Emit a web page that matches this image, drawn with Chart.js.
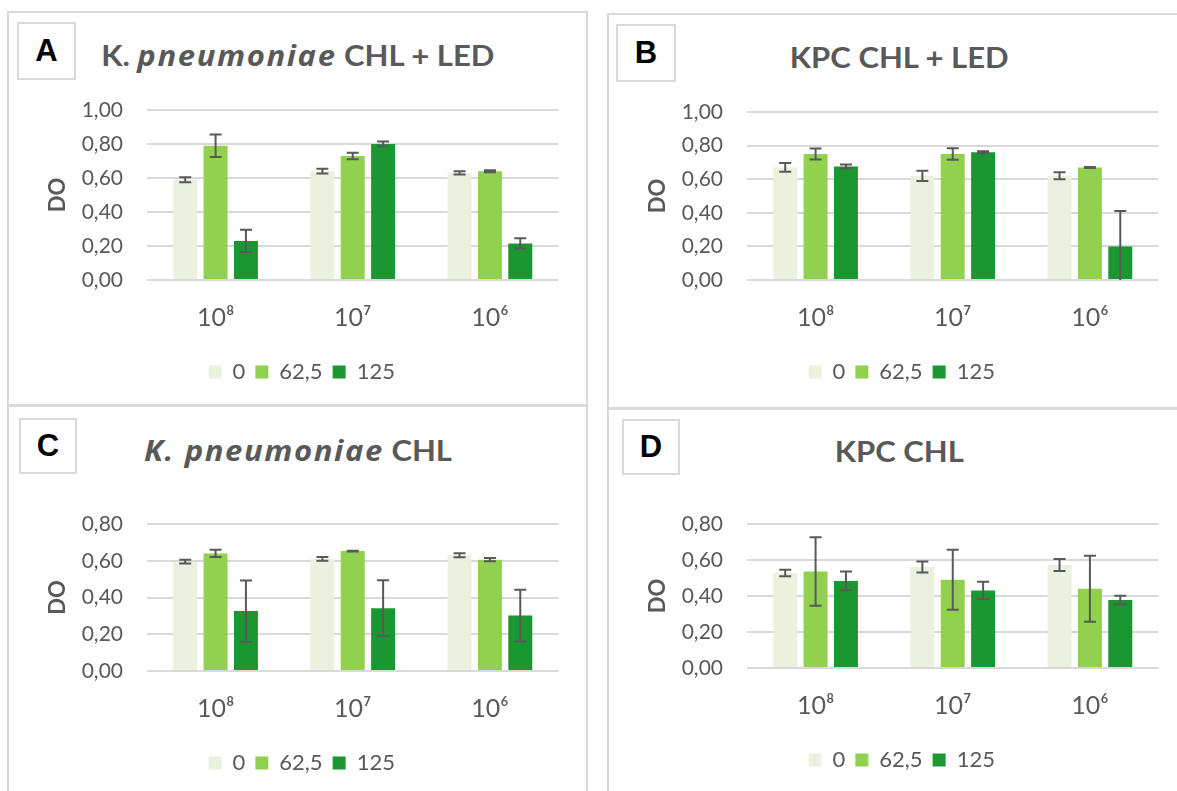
<!DOCTYPE html>
<html>
<head>
<meta charset="utf-8">
<script src="https://cdn.jsdelivr.net/npm/chart.js@4/dist/chart.umd.min.js"></script>
<style>
  html, body { margin: 0; padding: 0; background: #fff; width: 1177px; height: 791px; overflow: hidden; position: relative; }
  .frame { position: absolute; border: 2px solid #d9d9d9; box-sizing: border-box; }
  .tag { position: absolute; border: 2px solid #d9d9d9; box-sizing: border-box; background: #fff;
         display: flex; align-items: center; justify-content: center;
         font: bold 31px "Liberation Sans", Arial, sans-serif; color: #000; }
  .title { position: absolute; width: 500px; text-align: center; white-space: nowrap;
           font: bold 29px Lato, sans-serif; color: #595959; line-height: 29px; }
  .title span { display: inline-block; transform: scaleX(1.07); transform-origin: center; }
  .title i { font-family: "Open Sans", sans-serif; font-size: 29px; letter-spacing: 1.5px; }
  canvas { position: absolute; }
</style>
</head>
<body>
  <div class="frame" style="left:7px; top:11px; width:581px; height:395px;"></div>
  <div class="frame" style="left:7px; top:405px; width:581px; height:400px;"></div>
  <div class="frame" style="left:607px; top:13px; width:580px; height:396px;"></div>
  <div class="frame" style="left:607px; top:408px; width:580px; height:400px;"></div>

  <div class="tag" style="left:17px; top:22px; width:59px; height:58px;">A</div>
  <div class="tag" style="left:616px; top:24px; width:60px; height:58px;">B</div>
  <div class="tag" style="left:19px; top:418px; width:58px; height:56px;">C</div>
  <div class="tag" style="left:622px; top:419px; width:58px; height:56px;">D</div>

  <div class="title" style="left:48px; top:40px;"><span>K. <i>pneumoniae</i> CHL + LED</span></div>
  <div class="title" style="left:649px; top:42px;"><span>KPC CHL + LED</span></div>
  <div class="title" style="left:48px; top:435px;"><span><i>K. pneumoniae</i> CHL</span></div>
  <div class="title" style="left:649px; top:436px;"><span>KPC CHL</span></div>

  <canvas id="chartA" width="580" height="393" style="left:8px; top:12px;"></canvas>
  <canvas id="chartB" width="580" height="393" style="left:608px; top:12px;"></canvas>
  <canvas id="chartC" width="580" height="393" style="left:8px; top:403px;"></canvas>
  <canvas id="chartD" width="580" height="393" style="left:608px; top:400px;"></canvas>

<script>
// Inoculum categories and chloramphenicol concentrations
const categories = ['10\u2078', '10\u2077', '10\u2076'];
const seriesNames = ['0', '62,5', '125'];
const seriesColors = ['#ebf0df', '#92d050', '#1b9731'];

// A: K. pneumoniae CHL + LED (mean DO and error)
const aMean0 = [0.59, 0.64, 0.63];
const aErr0  = [0.015, 0.014, 0.010];
const aMean1 = [0.79, 0.73, 0.64];
const aErr1  = [0.066, 0.019, 0.006];
const aMean2 = [0.23, 0.80, 0.215];
const aErr2  = [0.066, 0.015, 0.030];

// B: KPC CHL + LED
const bMean0 = [0.67, 0.62, 0.62];
const bErr0  = [0.026, 0.030, 0.021];
const bMean1 = [0.75, 0.75, 0.67];
const bErr1  = [0.032, 0.034, 0.003];
const bMean2 = [0.675, 0.76, 0.20];
const bErr2  = [0.012, 0.006, 0.21];

// C: K. pneumoniae CHL
const cMean0 = [0.595, 0.61, 0.63];
const cErr0  = [0.010, 0.010, 0.011];
const cMean1 = [0.64, 0.653, 0.606];
const cErr1  = [0.020, 0.002, 0.009];
const cMean2 = [0.326, 0.342, 0.302];
const cErr2  = [0.167, 0.152, 0.140];

// D: KPC CHL
const dMean0 = [0.528, 0.561, 0.572];
const dErr0  = [0.018, 0.031, 0.033];
const dMean1 = [0.536, 0.49, 0.44];
const dErr1  = [0.190, 0.167, 0.183];
const dMean2 = [0.484, 0.431, 0.378];
const dErr2  = [0.052, 0.048, 0.024];

// Y axis ranges
const yMaxLed = 1.0;
const yMaxChl = 0.8;
const yStep = 0.2;

const textColor = '#595959';

// Symmetric error bars drawn from each bar's value through the y scale
const errorBars = {
  id: 'errorBars',
  afterDatasetsDraw(chart) {
    const ctx = chart.ctx;
    const y = chart.scales.y;
    const area = chart.chartArea;
    ctx.save();
    ctx.strokeStyle = textColor;
    ctx.lineWidth = 2;
    chart.data.datasets.forEach((ds, i) => {
      const meta = chart.getDatasetMeta(i);
      meta.data.forEach((bar, j) => {
        const v = ds.data[j];
        const e = ds.errors[j];
        const yHi = y.getPixelForValue(v + e);
        const lowVal = v - e;
        const yLo = Math.min(y.getPixelForValue(lowVal), area.bottom);
        const x = bar.x;
        const half = 6;
        ctx.beginPath();
        ctx.moveTo(x, yHi); ctx.lineTo(x, yLo);
        ctx.moveTo(x - half, yHi); ctx.lineTo(x + half, yHi);
        if (lowVal > 0) { ctx.moveTo(x - half, yLo); ctx.lineTo(x + half, yLo); }
        ctx.stroke();
      });
    });
    ctx.restore();
  }
};

function makeChart(id, means, errs, yMax, padTop) {
  return new Chart(document.getElementById(id), {
    type: 'bar',
    data: {
      labels: categories,
      datasets: seriesNames.map((name, i) => ({
        label: name,
        data: means[i],
        errors: errs[i],
        backgroundColor: seriesColors[i],
        borderWidth: 0,
        categoryPercentage: 0.664,
        barPercentage: 0.79
      }))
    },
    options: {
      responsive: false,
      animation: false,
      devicePixelRatio: 1,
      layout: { padding: { left: 37, right: 29.5, top: padTop, bottom: 12 } },
      plugins: {
        legend: {
          position: 'bottom',
          labels: {
            boxWidth: 13, boxHeight: 13, padding: 10, color: textColor,
            font: { family: 'Lato', size: 22 }
          }
        },
        tooltip: { enabled: false }
      },
      scales: {
        x: {
          grid: { display: false },
          border: { display: false },
          ticks: { color: textColor, font: { family: 'Lato', size: 25 }, padding: 15 },
          afterFit(scale) { scale.height = 71; }
        },
        y: {
          min: 0,
          max: yMax,
          ticks: {
            stepSize: yStep,
            color: textColor,
            font: { family: 'Lato', size: 21 },
            padding: 24,
            callback: (v) => v.toFixed(2).replace('.', ',')
          },
          grid: { color: '#d9d9d9', lineWidth: 2, drawTicks: false },
          border: { display: false },
          title: {
            display: true, text: 'DO', color: textColor, padding: 0,
            font: { family: 'Lato', size: 22, weight: 'bold' }
          },
          afterFit(scale) { scale.width = 102; }
        }
      }
    },
    plugins: [errorBars]
  });
}

makeChart('chartA', [aMean0, aMean1, aMean2], [aErr0, aErr1, aErr2], yMaxLed, 98);
makeChart('chartB', [bMean0, bMean1, bMean2], [bErr0, bErr1, bErr2], yMaxLed, 100);
makeChart('chartC', [cMean0, cMean1, cMean2], [cErr0, cErr1, cErr2], yMaxChl, 121);
makeChart('chartD', [dMean0, dMean1, dMean2], [dErr0, dErr1, dErr2], yMaxChl, 124);
</script>
</body>
</html>
